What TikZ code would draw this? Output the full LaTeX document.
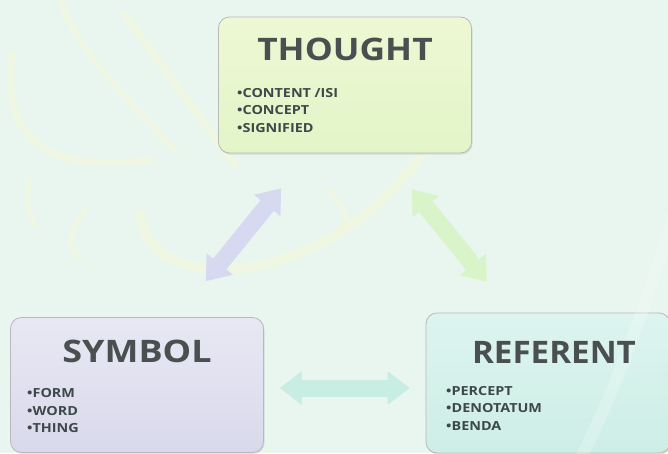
\documentclass[tikz,border=0pt]{standalone}
\usepackage{fontspec}
\setmainfont{Open Sans}
\usetikzlibrary{arrows.meta,shadows,calc}
\definecolor{bg}{HTML}{E9F5EF}
\definecolor{txt}{HTML}{4A5050}
\definecolor{lst}{HTML}{3E4848}
\definecolor{thtop}{HTML}{EEF8D4}
\definecolor{thbot}{HTML}{E2F5C8}
\definecolor{sytop}{HTML}{E8E8F4}
\definecolor{sybot}{HTML}{D9D9EC}
\definecolor{retop}{HTML}{DDF4EF}
\definecolor{rebot}{HTML}{CDEEE6}
\definecolor{arlav}{HTML}{D6D9EF}
\definecolor{argrn}{HTML}{D8F4C8}
\definecolor{arcyn}{HTML}{C8EEE4}
\definecolor{wmy}{HTML}{F4F7D6}
\tikzset{
  box/.style={draw=gray!55, rounded corners=11pt, line width=0.8pt, inner sep=0pt,
    drop shadow={opacity=0.2, shadow xshift=1pt, shadow yshift=-1.5pt}},
  titletext/.style={text=txt, font=\fontsize{31}{31}\selectfont\bfseries, inner sep=0pt, anchor=base},
  listtext/.style={text=lst, font=\fontsize{12.5}{12.5}\selectfont\bfseries, inner sep=0pt, anchor=base west, xscale=1.15},
  barrow/.style={line width=17pt,
    {Triangle[width=34pt,length=22pt,line width=0pt]}-{Triangle[width=34pt,length=22pt,line width=0pt]}},
  wm/.style={draw=wmy, line cap=round, opacity=0.55}
}
\begin{document}
\begin{tikzpicture}[x=1pt,y=-1pt]
\fill[bg] (0,0) rectangle (668,453);
\useasboundingbox (0,0) rectangle (668,453);

% faint background watermark strokes
\draw[wm, line width=10pt] (140,215) .. controls (150,300) and (330,290) .. (425,150);
\draw[wm, line width=8pt] (125,15) -- (235,165);
\draw[wm, line width=7pt] (12,55) .. controls (0,150) and (60,172) .. (150,160);
\draw[wm, line width=6pt] (60,0) .. controls (80,60) and (150,120) .. (175,150);
\draw[wm, line width=5pt] (30,180) .. controls (25,200) and (28,215) .. (35,225);
\draw[wm, line width=5pt] (85,210) .. controls (70,230) and (65,250) .. (80,258);
\draw[wm, line width=5pt] (330,190) .. controls (345,210) and (350,220) .. (340,230);

% boxes
\node[box, top color=thtop, bottom color=thbot, minimum width=253pt, minimum height=136pt] (thought) at (345,85) {};
\node[box, top color=sytop, bottom color=sybot, minimum width=253pt, minimum height=135pt] (symbol) at (137,385) {};
\node[box, top color=retop, bottom color=rebot, minimum width=244pt, minimum height=140pt] (referent) at (548,383) {};

\draw[white, opacity=0.22, line width=12pt] (690,160) .. controls (660,260) and (630,360) .. (580,460);

% titles
\node[titletext, xscale=1.14] (thoughtT) at (345,60) {THOUGHT};
\node[titletext, xscale=1.16] (symbolT) at (137,362) {SYMBOL};
\node[titletext, xscale=1.07] (referentT) at (554,363) {REFERENT};

% lists
\node[listtext] (t1) at (237,97) {•CONTENT /ISI};
\node[listtext] (t2) at (237,114) {•CONCEPT};
\node[listtext] (t3) at (237,132) {•SIGNIFIED};
\node[listtext] (s1) at (27,397) {•FORM};
\node[listtext] (s2) at (27,415) {•WORD};
\node[listtext] (s3) at (27,432) {•THING};
\node[listtext] (r1) at (446,395) {•PERCEPT};
\node[listtext] (r2) at (446,412) {•DENOTATUM};
\node[listtext] (r3) at (446,430) {•BENDA};

% arrows
\draw[barrow, draw=arlav] ([shift={(63,35)}]thought.south west) -- ([shift={(-58,-36)}]symbol.north east);
\draw[barrow, draw=argrn] ([shift={(-60,36)}]thought.south east) -- ([shift={(61,-31)}]referent.north west);
\draw[barrow, draw=arcyn] ([shift={(16,3)}]symbol.east) -- ([shift={(-16,5)}]referent.west);
\end{tikzpicture}
\end{document}
